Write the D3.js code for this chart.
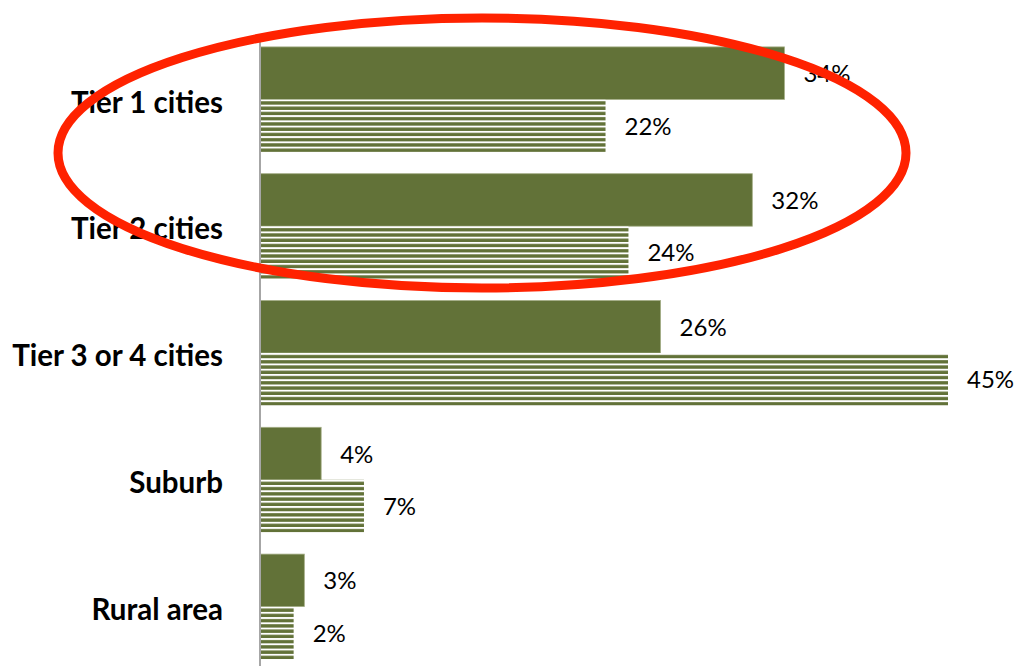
<!DOCTYPE html>
<html><head><meta charset="utf-8">
<script src="https://cdn.jsdelivr.net/npm/d3@7"></script>
<style>html,body{margin:0;padding:0;background:#fff;}svg{display:block;}</style>
</head><body>
<svg id="chart" width="1014" height="666"></svg>
<script>
const categories = ["Tier 1 cities", "Tier 2 cities", "Tier 3 or 4 cities", "Suburb", "Rural area"];
const seriesNames = ["Solid", "Striped"];
const solidValues = [34.3, 32.2, 26.2, 4.0, 2.9];
const stripedValues = [22.6, 24.1, 45.0, 6.8, 2.2];
const solidLabels = ["34%", "32%", "26%", "4%", "3%"];
const stripedLabels = ["22%", "24%", "45%", "7%", "2%"];

const svg = d3.select("#chart");
const green = "#627238";

const x = d3.scaleLinear().domain([0, 45]).range([260, 948]);
const y = d3.scaleBand().domain(categories).range([36, 670]).paddingInner(0.172).paddingOuter(0.086);
const ySub = d3.scaleBand().domain(seriesNames).range([0, y.bandwidth()]);

const defs = svg.append("defs");
const pat = defs.append("pattern").attr("id", "stripes")
  .attr("patternUnits", "objectBoundingBox")
  .attr("width", 1).attr("height", 0.1);
const tileH = ySub.bandwidth() / 10;
pat.append("rect").attr("x", 0).attr("y", 0).attr("width", 2000).attr("height", tileH).attr("fill", "#fff");
pat.append("rect").attr("x", 0).attr("y", tileH * 0.36).attr("width", 2000).attr("height", tileH * 0.64).attr("fill", green);

const rows = categories.map((c, i) => ({c, s: solidValues[i], t: stripedValues[i], sl: solidLabels[i], tl: stripedLabels[i]}));

const g = svg.append("g");
g.selectAll("rect.solid").data(rows).enter().append("rect").attr("class", "solid")
  .attr("x", x(0)).attr("y", d => y(d.c) + ySub("Solid"))
  .attr("width", d => x(d.s) - x(0)).attr("height", ySub.bandwidth())
  .attr("fill", green).attr("stroke", "#a3ad85").attr("stroke-width", 0.8);
g.selectAll("rect.striped").data(rows).enter().append("rect").attr("class", "striped")
  .attr("x", x(0)).attr("y", d => y(d.c) + ySub("Striped"))
  .attr("width", d => x(d.t) - x(0)).attr("height", ySub.bandwidth())
  .attr("fill", "url(#stripes)");

const vFont = "Lato, 'Open Sans', sans-serif";
g.selectAll("text.sl").data(rows).enter().append("text").attr("class", "sl")
  .attr("x", d => x(d.s) + 19).attr("y", d => y(d.c) + ySub("Solid") + ySub.bandwidth() / 2 + 9)
  .attr("font-family", vFont).attr("font-size", 24).attr("fill", "#000").text(d => d.sl);
g.selectAll("text.tl").data(rows).enter().append("text").attr("class", "tl")
  .attr("x", d => x(d.t) + 19).attr("y", d => y(d.c) + ySub("Striped") + ySub.bandwidth() / 2 + 9)
  .attr("font-family", vFont).attr("font-size", 24).attr("fill", "#000").text(d => d.tl);

const axis = d3.axisLeft(y).tickSize(0).tickPadding(37);
const ax = svg.append("g").attr("transform", `translate(${x(0)},0)`).call(axis);
ax.select(".domain").attr("stroke", "#a6a6a6").attr("stroke-width", 2).attr("d", `M0,${y.range()[0]}V${y.range()[1]}`);
ax.selectAll(".tick text").attr("font-family", "Lato, 'Open Sans', sans-serif").attr("font-weight", "bold")
  .attr("font-size", 29.5).attr("fill", "#000").attr("dy", "0.45em");

svg.append("ellipse").attr("cx", 482).attr("cy", 153).attr("rx", 424).attr("ry", 135)
  .attr("fill", "none").attr("stroke", "#ff2200").attr("stroke-width", 9);
</script>
</body></html>
